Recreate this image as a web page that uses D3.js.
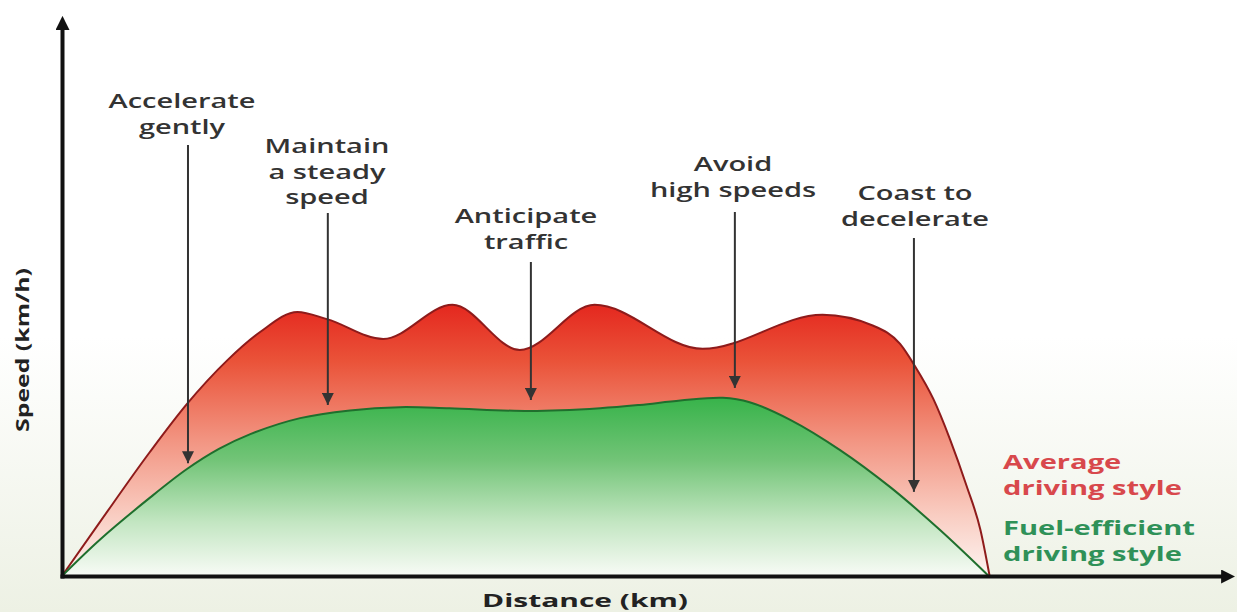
<!DOCTYPE html>
<html><head><meta charset="utf-8">
<script src="https://cdn.jsdelivr.net/npm/d3@7"></script>
<style>html,body{margin:0;padding:0;background:#fff;} svg{display:block;}</style>
</head><body>
<svg id="chart" width="1237" height="612"></svg>
<script>
// ---- data ----
const averageDistance = [0, 4.1, 9.5, 13.5, 17.9, 21.5, 25.5, 28.7, 34.8, 42.3, 49.6, 57.7, 69.4, 82.4, 87.9, 90.8, 92.4, 94.4, 96.2, 98, 99.5, 100.5];
const averageSpeed    = [0, 9.8, 22.5, 31.2, 39.2, 44.4, 48, 46.7, 43.1, 49.3, 41.1, 49.3, 41.3, 47.5, 45.5, 42.2, 38.2, 32.2, 24.9, 16.4, 8.4, 0];
const efficientDistance = [0, 4.1, 9.5, 13.5, 17, 20.4, 25.8, 31.2, 36.6, 42, 50.7, 58.3, 62.6, 67, 71.6, 74.5, 78.9, 84.3, 89.7, 95.1, 100.4];
const efficientSpeed    = [0, 6.6, 14.2, 19.4, 23.1, 25.8, 28.7, 30.1, 30.7, 30.5, 30, 30.5, 31.1, 31.9, 32.4, 31.6, 28.4, 22.9, 16.2, 8.4, 0];
const tipLabels = [["Accelerate","gently"],["Maintain","a steady","speed"],["Anticipate","traffic"],["Avoid","high speeds"],["Coast to","decelerate"]];
const tipDistance = [13.65, 28.8, 50.8, 72.9, 92.3];
const tipSpeed = [20.5, 31.1, 32, 34.2, 15.3];
const seriesNames = [["Average","driving style"],["Fuel-efficient","driving style"]];
const xLabel = "Distance (km)";
const yLabel = "Speed (km/h)";

// ---- layout ----
const W = 1237, H = 612;
const tipLayout = [
  {cx:182, base:108, lh:26, top:145},
  {cx:327, base:153, lh:25.5, top:213},
  {cx:526, base:223, lh:26, top:262},
  {cx:733, base:171, lh:26, top:212},
  {cx:915, base:200, lh:26, top:238}
];
const FONT = "'Open Sans', 'DejaVu Sans', sans-serif";

const svg = d3.select("#chart");
const defs = svg.append("defs");

function linGrad(id, y1, y2, stops) {
  const g = defs.append("linearGradient").attr("id", id)
    .attr("gradientUnits","userSpaceOnUse").attr("x1",0).attr("x2",0).attr("y1",y1).attr("y2",y2);
  stops.forEach(s => g.append("stop").attr("offset", s[0]).attr("stop-color", s[1]));
}
linGrad("bg", 0, H, [[0,"#ffffff"],[0.55,"#ffffff"],[1,"#edf1e4"]]);
svg.append("rect").attr("width",W).attr("height",H).attr("fill","url(#bg)");

const x = d3.scaleLinear().domain([0,100]).range([62,985]);
const y = d3.scaleLinear().domain([0,100]).range([576,26]);

linGrad("redFill", y(50), y(0), [[0,"#e4251d"],[0.22,"#ea5339"],[0.5,"#f29380"],[0.78,"#f9cdc2"],[1,"#fdf4f1"]]);
linGrad("greenFill", y(32.5), y(0), [[0,"#37b34a"],[0.35,"#72c477"],[0.7,"#c3e6c2"],[1,"#f8fbf6"]]);

const avgData = averageDistance.map((d,i)=>[d, averageSpeed[i]]);
const effData = efficientDistance.map((d,i)=>[d, efficientSpeed[i]]);
function makeArea(c) { return d3.area().x(d=>x(d[0])).y0(y(0)).y1(d=>y(d[1])).curve(c); }
function makeLine(c) { return d3.line().x(d=>x(d[0])).y(d=>y(d[1])).curve(c); }
const redCurve = d3.curveMonotoneX, greenCurve = d3.curveCatmullRom.alpha(0.5);

svg.append("path").attr("d", makeArea(redCurve)(avgData)).attr("fill","url(#redFill)");
svg.append("path").attr("d", makeLine(redCurve)(avgData)).attr("fill","none").attr("stroke","#8e1b1b").attr("stroke-width",2);
svg.append("path").attr("d", makeArea(greenCurve)(effData)).attr("fill","url(#greenFill)");
svg.append("path").attr("d", makeLine(greenCurve)(effData)).attr("fill","none").attr("stroke","#1f6f2d").attr("stroke-width",2);

// markers
defs.append("marker").attr("id","tip").attr("viewBox","0 0 10 10").attr("refX",10).attr("refY",5)
  .attr("markerWidth",12).attr("markerHeight",12).attr("markerUnits","userSpaceOnUse").attr("orient","auto")
  .append("path").attr("d","M0,0L10,5L0,10z").attr("fill","#333");
defs.append("marker").attr("id","axisTip").attr("viewBox","0 0 10 10").attr("refX",1).attr("refY",5)
  .attr("markerWidth",14).attr("markerHeight",14).attr("markerUnits","userSpaceOnUse").attr("orient","auto")
  .append("path").attr("d","M0,0L10,5L0,10z").attr("fill","#111");

// axes
const xAxisScale = d3.scaleLinear().domain([0, x.invert(1222)]).range([x(0), 1222]);
const yAxisScale = d3.scaleLinear().domain([0, y.invert(28)]).range([y(0), 28]);
const gx = svg.append("g").attr("transform",`translate(0,${y(0)})`)
  .call(d3.axisBottom(xAxisScale).tickValues([]).tickSizeOuter(0));
const gy = svg.append("g").attr("transform",`translate(${x(0)},0)`)
  .call(d3.axisLeft(yAxisScale).tickValues([]).tickSizeOuter(0));
[gx, gy].forEach(g => g.select(".domain").attr("stroke","#111").attr("stroke-width",4)
  .attr("stroke-linecap","square").attr("marker-end","url(#axisTip)"));

// text helpers
function measure(txt, size, weight) {
  const t = svg.append("text").attr("font-family",FONT).attr("font-size",size).attr("font-weight",weight).text(txt);
  const w = t.node().getComputedTextLength(); t.remove(); return w;
}
function addText(txt, px, py, size, weight, fill, sx, anchor, rot) {
  svg.append("text").attr("font-family",FONT).attr("font-size",size).attr("font-weight",weight)
    .attr("fill",fill).attr("text-anchor",anchor)
    .attr("transform",`translate(${px},${py})${rot?` rotate(${rot})`:""} scale(${sx},1)`)
    .text(txt);
}

// annotations
const annSize = 19, annWeight = 600;
const annStretch = 147 / measure("Accelerate", annSize, annWeight);
tipLabels.forEach((lines, i) => {
  const L = tipLayout[i];
  lines.forEach((t, j) => addText(t, L.cx, L.base + j*L.lh, annSize, annWeight, "#333", annStretch, "middle"));
  svg.append("line").attr("x1", x(tipDistance[i])).attr("x2", x(tipDistance[i]))
    .attr("y1", L.top).attr("y2", y(tipSpeed[i]))
    .attr("stroke","#333").attr("stroke-width",2).attr("marker-end","url(#tip)");
});

// legend
const legSize = 19, legWeight = 700;
const legStretch = 192 / measure("Fuel-efficient", legSize, legWeight);
const legColors = ["#d8484c","#2f9158"];
const legBase = [469, 535];
seriesNames.forEach((lines, i) => lines.forEach((t, j) =>
  addText(t, 1003, legBase[i] + j*26, legSize, legWeight, legColors[i], legStretch, "start")));

// axis labels
const labSize = 18, labWeight = 700;
addText(xLabel, 585, 607, labSize, labWeight, "#222", 206 / measure(xLabel, labSize, labWeight), "middle");
addText(yLabel, 29, 350, labSize, labWeight, "#222", 164 / measure(yLabel, labSize, labWeight), "middle", -90);
</script>
</body></html>
